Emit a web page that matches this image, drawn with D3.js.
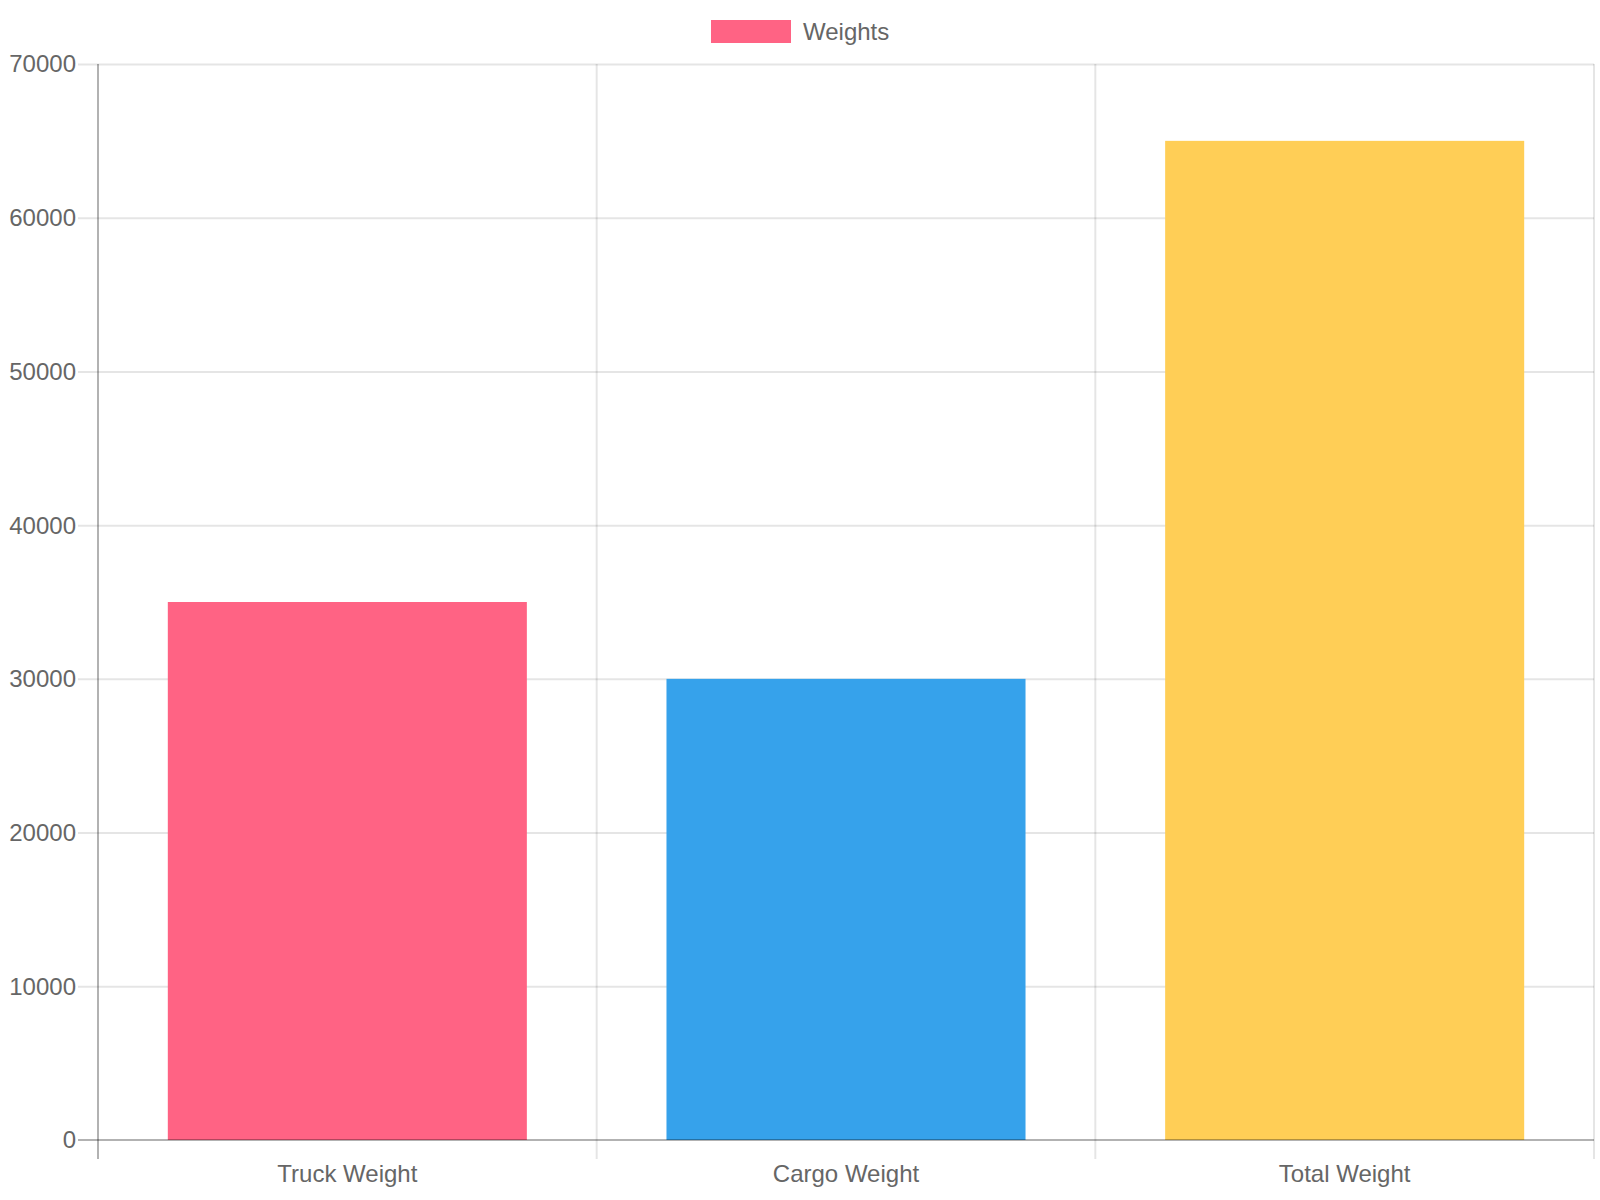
<!DOCTYPE html>
<html>
<head>
<meta charset="utf-8">
<script src="https://cdn.jsdelivr.net/npm/d3@7"></script>
<style>
    body { margin: 0; background: #fff; }
    #chart { width: 1600px; height: 1200px; }
    text { font-family: "Liberation Sans", Arial, Helvetica, sans-serif; fill: #666; }
</style>
</head>
<body>
<div id="chart"></div>
<script>
// data
const categories = ["Truck Weight", "Cargo Weight", "Total Weight"];
const weights = [35000, 30000, 65000];
const barColors = ["#FF6384", "#36A2EB", "#FFCE56"];
const yTicks = [0, 10000, 20000, 30000, 40000, 50000, 60000, 70000];
const legendLabel = "Weights";

const margin = {top: 64, right: 6, bottom: 60, left: 98};
const width = 1600 - margin.left - margin.right;
const height = 1200 - margin.top - margin.bottom;

const svg = d3.select("#chart").append("svg")
    .attr("width", 1600)
    .attr("height", 1200)
    .append("g")
    .attr("transform", "translate(" + margin.left + "," + margin.top + ")");

// scales
const x = d3.scaleBand().domain(categories).range([0, width]).paddingInner(0).paddingOuter(0);
const y = d3.scaleLinear().domain([0, 70000]).range([height, 0]);

// horizontal grid + ticks
svg.append("g")
    .selectAll("line")
    .data(yTicks)
    .join("line")
    .attr("x1", -20)
    .attr("x2", width)
    .attr("y1", d => y(d) + 0.5)
    .attr("y2", d => y(d) + 0.5)
    .attr("stroke", d => d === 0 ? "none" : "rgba(0,0,0,0.1)")
    .attr("stroke-width", 2);

// vertical grid lines at category boundaries
const bounds = categories.map(c => x(c)).concat([width]);
svg.append("g")
    .selectAll("line")
    .data(bounds)
    .join("line")
    .attr("x1", d => d)
    .attr("x2", d => d)
    .attr("y1", 0)
    .attr("y2", height + 19)
    .attr("stroke", (d, i) => i === 0 ? "none" : "rgba(0,0,0,0.1)")
    .attr("stroke-width", 2);

// bars
const bw = x.bandwidth() * 0.72;
svg.append("g")
    .selectAll("rect")
    .data(weights)
    .join("rect")
    .attr("x", (d, i) => x(categories[i]) + (x.bandwidth() - bw) / 2)
    .attr("width", bw)
    .attr("y", d => y(d))
    .attr("height", d => y(0) - y(d))
    .attr("fill", (d, i) => barColors[i]);

// axis lines
svg.append("line")
    .attr("x1", 0).attr("x2", 0)
    .attr("y1", 0).attr("y2", height + 19)
    .attr("stroke", "rgba(0,0,0,0.3)").attr("stroke-width", 2);
svg.append("line")
    .attr("x1", -20).attr("x2", width)
    .attr("y1", height).attr("y2", height)
    .attr("stroke", "rgba(0,0,0,0.3)").attr("stroke-width", 2);

// y tick labels
svg.append("g")
    .selectAll("text")
    .data(yTicks)
    .join("text")
    .attr("x", -22)
    .attr("y", d => y(d))
    .attr("dy", "0.35em")
    .attr("text-anchor", "end")
    .style("font-size", "24px")
    .text(d => d);

// x tick labels
svg.append("g")
    .selectAll("text")
    .data(categories)
    .join("text")
    .attr("x", d => x(d) + x.bandwidth() / 2)
    .attr("y", height + 42)
    .attr("text-anchor", "middle")
    .style("font-size", "24px")
    .text(d => d);

// legend
const legend = d3.select("#chart svg").append("g");
legend.append("rect")
    .attr("x", 711).attr("y", 20)
    .attr("width", 80).attr("height", 23)
    .attr("fill", barColors[0]);
legend.append("text")
    .attr("x", 803).attr("y", 40)
    .style("font-size", "24px")
    .text(legendLabel);
</script>
</body>
</html>
